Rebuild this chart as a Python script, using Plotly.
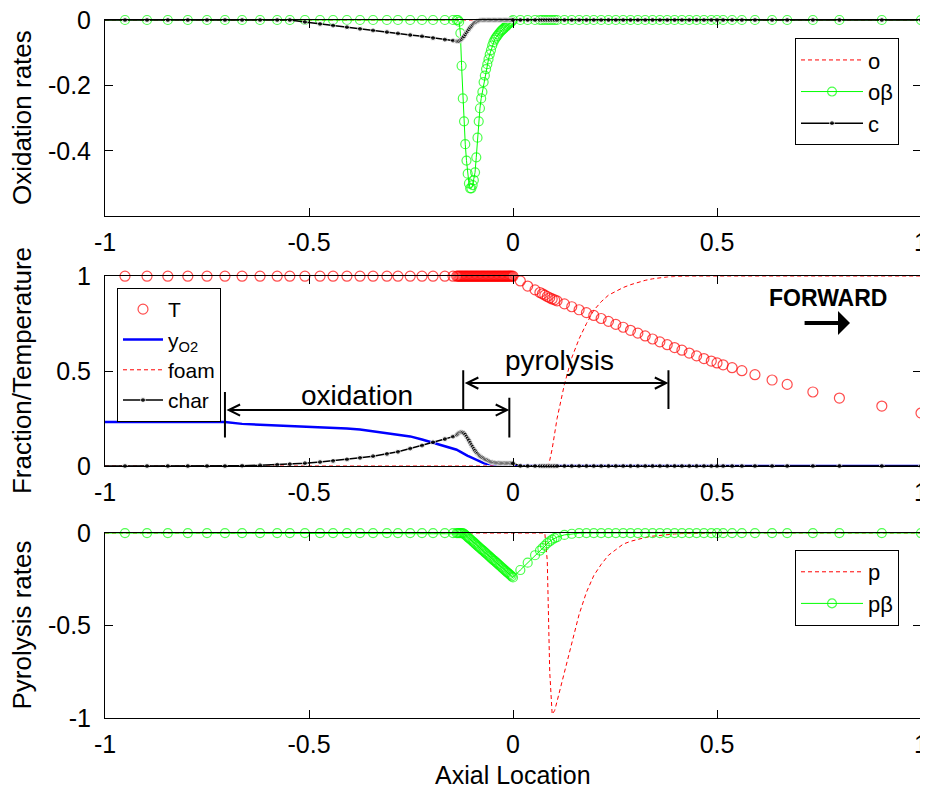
import plotly.graph_objects as go

# ---------------- data ----------------
X = [-1.0, -0.951, -0.897, -0.846, -0.797, -0.750, -0.706, -0.664, -0.620, -0.578, -0.547, -0.510,
     -0.473, -0.441, -0.407, -0.375, -0.343, -0.309, -0.282, -0.252, -0.223, -0.196, -0.167, -0.147,
     -0.138, -0.135, -0.132, -0.129, -0.126, -0.123, -0.120, -0.117, -0.114, -0.111,
     -0.108, -0.105, -0.102, -0.099, -0.096, -0.093, -0.090, -0.087, -0.084, -0.081,
     -0.078, -0.075, -0.072, -0.069, -0.066, -0.063, -0.060, -0.057, -0.054, -0.051,
     -0.048, -0.045, -0.042, -0.039, -0.036, -0.033, -0.030, -0.027, -0.024, -0.021,
     -0.018, -0.015, -0.012, -0.009, -0.006, -0.003, 0.0,
     0.018, 0.036, 0.054, 0.066, 0.072, 0.078, 0.084, 0.090, 0.096, 0.102,
     0.108, 0.126, 0.144, 0.162, 0.180, 0.198, 0.216, 0.234, 0.252, 0.270,
     0.288, 0.306, 0.324, 0.342, 0.360, 0.378, 0.396, 0.414, 0.432, 0.450, 0.468, 0.486,
     0.500, 0.515, 0.537, 0.561, 0.593, 0.635, 0.672, 0.735, 0.800, 0.904, 1.0]

O_RATE = [0, 0, 0, 0, 0, 0, 0, 0, 0, 0, 0, 0, 0, 0, 0, 0, 0, 0, 0, 0, 0, 0, 0, 0,
          0, 0, 0, 0, 0, 0, 0, 0, 0, 0,
          0, 0, 0, 0, 0, 0, 0, 0, 0, 0,
          0, 0, 0, 0, 0, 0, 0, 0, 0, 0,
          0, 0, 0, 0, 0, 0, 0, 0, 0, 0,
          0, 0, 0, 0, 0, 0, 0,
          0, 0, 0, 0, 0, 0, 0, 0, 0, 0, 0, 0, 0, 0, 0, 0, 0, 0, 0, 0, 0, 0, 0, 0, 0, 0, 0, 0, 0, 0, 0, 0,
          0, 0, 0, 0, 0, 0, 0, 0, 0, 0, 0]

OB_RATE = [0, 0, 0, 0, 0, 0, 0, 0, 0, 0, 0, 0, 0, 0, 0, 0, 0, 0, 0, 0, 0, 0, 0, 0,
           0, 0, -0.005, -0.04, -0.14, -0.24, -0.31, -0.38, -0.43, -0.47,
           -0.50, -0.515, -0.515, -0.505, -0.49, -0.466, -0.42, -0.36, -0.31, -0.27,
           -0.24, -0.22, -0.19, -0.17, -0.15, -0.135, -0.12, -0.105, -0.092, -0.078,
           -0.068, -0.06, -0.054, -0.049, -0.044, -0.039, -0.035, -0.031, -0.028, -0.024,
           -0.02, -0.017, -0.013, -0.01, -0.007, -0.004, 0,
           0, 0, 0, 0, 0, 0, 0, 0, 0, 0, 0, 0, 0, 0, 0, 0, 0, 0, 0, 0, 0, 0, 0, 0, 0, 0, 0, 0, 0, 0, 0, 0,
           0, 0, 0, 0, 0, 0, 0, 0, 0, 0, 0]

C_RATE = [0, 0, 0, 0, 0, 0, 0, 0, 0, 0, 0, -0.006,
          -0.012, -0.017, -0.022, -0.027, -0.032, -0.037, -0.041, -0.046, -0.050, -0.055, -0.060, -0.063,
          -0.065, -0.065, -0.064, -0.061, -0.058, -0.054, -0.050, -0.044, -0.038, -0.033,
          -0.028, -0.023, -0.018, -0.014, -0.010, -0.007, -0.005, -0.003, -0.002, -0.001,
          0, 0, 0, 0, 0, 0, 0, 0, 0, 0,
          0, 0, 0, 0, 0, 0, 0, 0, 0, 0,
          0, 0, 0, 0, 0, 0, 0,
          0, 0, 0, 0, 0, 0, 0, 0, 0, 0, 0, 0, 0, 0, 0, 0, 0, 0, 0, 0, 0, 0, 0, 0, 0, 0, 0, 0, 0, 0, 0, 0,
          0, 0, 0, 0, 0, 0, 0, 0, 0, 0, 0]

TEMP = [1, 1, 1, 1, 1, 1, 1, 1, 1, 1, 1, 1, 1, 1, 1, 1, 1, 1, 1, 1, 1, 1, 1, 1,
        1, 1, 1, 1, 1, 1, 1, 1, 1, 1,
        1, 1, 1, 1, 1, 1, 1, 1, 1, 1,
        1, 1, 1, 1, 1, 1, 1, 1, 1, 1,
        1, 1, 1, 1, 1, 1, 1, 1, 1, 1,
        1, 1, 1, 1, 1, 1, 1,
        0.975, 0.948, 0.928, 0.914, 0.907, 0.900, 0.893, 0.886, 0.880, 0.875,
        0.870, 0.854, 0.839, 0.823, 0.808, 0.793, 0.777, 0.762, 0.746, 0.731,
        0.715, 0.700, 0.685, 0.669, 0.654, 0.639, 0.624, 0.610, 0.595, 0.580, 0.566, 0.553,
        0.543, 0.533, 0.518, 0.502, 0.481, 0.453, 0.430, 0.390, 0.358, 0.316, 0.279]

Y_O2 = [0.232, 0.232, 0.232, 0.232, 0.232, 0.232, 0.232, 0.222, 0.218, 0.215, 0.213, 0.211,
        0.208, 0.204, 0.198, 0.192, 0.183, 0.172, 0.165, 0.156, 0.140, 0.124, 0.105, 0.095,
        0.086, 0.082, 0.078, 0.075, 0.071, 0.068, 0.064, 0.061, 0.057, 0.054,
        0.051, 0.048, 0.045, 0.042, 0.038, 0.034, 0.030, 0.027, 0.023, 0.020,
        0.018, 0.016, 0.015, 0.013, 0.012, 0.011, 0.010, 0.009, 0.008, 0.007,
        0.006, 0.0055, 0.005, 0.0045, 0.004, 0.0035, 0.003, 0.0025, 0.002, 0.0015,
        0.001, 0.001, 0, 0, 0, 0, 0,
        0, 0, 0, 0, 0, 0, 0, 0, 0, 0, 0, 0, 0, 0, 0, 0, 0, 0, 0, 0, 0, 0, 0, 0, 0, 0, 0, 0, 0, 0, 0, 0,
        0, 0, 0, 0, 0, 0, 0, 0, 0, 0, 0]

FOAM = [0, 0, 0, 0, 0, 0, 0, 0, 0, 0, 0, 0, 0, 0, 0, 0, 0, 0, 0, 0, 0, 0, 0, 0,
        0, 0, 0, 0, 0, 0, 0, 0, 0, 0,
        0, 0, 0, 0, 0, 0, 0, 0, 0, 0,
        0, 0, 0, 0, 0, 0, 0, 0, 0, 0,
        0, 0, 0, 0, 0, 0, 0, 0, 0, 0,
        0, 0, 0, 0, 0, 0, 0,
        0, 0, 0, 0, 0, 0, 0, 0.03, 0.09, 0.17,
        0.25, 0.43, 0.57, 0.67, 0.75, 0.82, 0.865, 0.90, 0.92, 0.94,
        0.955, 0.968, 0.978, 0.986, 0.992, 0.996, 0.998, 1, 1, 1, 1, 1,
        1, 1, 1, 1, 1, 1, 1, 1, 1, 1, 1]

CHAR = [0, 0, 0, 0, 0, 0, 0, 0.002, 0.004, 0.007, 0.010, 0.015,
        0.021, 0.027, 0.035, 0.043, 0.052, 0.064, 0.075, 0.092, 0.108, 0.125, 0.142, 0.155,
        0.165, 0.170, 0.175, 0.178, 0.178, 0.176, 0.172, 0.165, 0.155, 0.145,
        0.135, 0.122, 0.110, 0.100, 0.090, 0.081, 0.072, 0.065, 0.058, 0.053,
        0.048, 0.044, 0.040, 0.036, 0.033, 0.030, 0.027, 0.024, 0.022, 0.020,
        0.019, 0.018, 0.017, 0.0165, 0.016, 0.0155, 0.015, 0.015, 0.015, 0.015,
        0.015, 0.015, 0.015, 0.015, 0.015, 0.015, 0.014,
        0.001, 0, 0, 0, 0, 0, 0, 0, 0, 0, 0, 0, 0, 0, 0, 0, 0, 0, 0, 0, 0, 0, 0, 0, 0, 0, 0, 0, 0, 0, 0, 0,
        0, 0, 0, 0, 0, 0, 0, 0, 0, 0, 0]

P_RATE = [0, 0, 0, 0, 0, 0, 0, 0, 0, 0, 0, 0, 0, 0, 0, 0, 0, 0, 0, 0, 0, 0, 0, 0,
          0, 0, 0, 0, 0, 0, 0, 0, 0, 0,
          0, 0, 0, 0, 0, 0, 0, 0, 0, 0,
          0, 0, 0, 0, 0, 0, 0, 0, 0, 0,
          0, 0, 0, 0, 0, 0, 0, 0, 0, 0,
          0, 0, 0, 0, 0, 0, 0,
          0, 0, 0, 0, 0, 0, -0.15, -0.75, -0.98, -0.96,
          -0.91, -0.75, -0.59, -0.44, -0.32, -0.23, -0.17, -0.12, -0.09, -0.06,
          -0.045, -0.033, -0.024, -0.017, -0.012, -0.008, -0.005, -0.003, -0.002, -0.001, 0, 0,
          0, 0, 0, 0, 0, 0, 0, 0, 0, 0, 0]

PB_RATE = [0, 0, 0, 0, 0, 0, 0, 0, 0, 0, 0, 0, 0, 0, 0, 0, 0, 0, 0, 0, 0, 0, 0, 0,
           0, 0, 0, 0, 0, 0, -0.004, -0.010, -0.016, -0.022,
           -0.028, -0.033, -0.039, -0.045, -0.051, -0.057, -0.063, -0.069, -0.075, -0.081,
           -0.087, -0.092, -0.098, -0.104, -0.110, -0.116, -0.122, -0.128, -0.134, -0.140,
           -0.146, -0.151, -0.157, -0.163, -0.169, -0.175, -0.181, -0.187, -0.193, -0.199,
           -0.205, -0.211, -0.216, -0.222, -0.228, -0.234, -0.240,
           -0.20, -0.16, -0.12, -0.095, -0.082, -0.068, -0.055, -0.045, -0.036, -0.028,
           -0.022, -0.010, -0.004, -0.001, 0, 0, 0, 0, 0, 0, 0, 0, 0, 0, 0, 0, 0, 0, 0, 0, 0, 0,
           0, 0, 0, 0, 0, 0, 0, 0, 0, 0, 0]

X_TICKS = [-1, -0.5, 0, 0.5, 1]
X_TICKTEXT = ["-1", "-0.5", "0", "0.5", "1"]
Y1_TICKS = [0, -0.2, -0.4]
Y1_TICKTEXT = ["0", "-0.2", "-0.4"]
Y2_TICKS = [0, 0.5, 1]
Y2_TICKTEXT = ["0", "0.5", "1"]
Y3_TICKS = [0, -0.5, -1]
Y3_TICKTEXT = ["0", "-0.5", "-1"]

# annotation positions (middle panel data coords)
OXID_SPAN = [-0.706, -0.009]
PYRO_SPAN = [-0.122, 0.381]

# ---------------- figure ----------------
FONT = "Liberation Sans, Arial, sans-serif"
RED, GREEN, BLUE, BLACK = "#ff0000", "#00ff00", "#0000ff", "#000000"
n = len(X)
circ_sizes = [0] + [9] * (n - 1)
dot_sizes = [0] + [5] * (n - 1)

fig = go.Figure()

# top panel
fig.add_trace(go.Scatter(x=X, y=O_RATE, name="o", mode="lines", xaxis="x", yaxis="y",
                         line=dict(color=RED, width=1, dash="4px,3px"), legend="legend", cliponaxis=False))
fig.add_trace(go.Scatter(x=X, y=OB_RATE, name="oβ", mode="lines+markers", xaxis="x", yaxis="y",
                         line=dict(color=GREEN, width=1),
                         marker=dict(symbol="circle-open", size=circ_sizes, color=GREEN, line=dict(width=1.2, color=GREEN)),
                         legend="legend", cliponaxis=False))
fig.add_trace(go.Scatter(x=X, y=C_RATE, name="c", mode="lines+markers", xaxis="x", yaxis="y",
                         line=dict(color=BLACK, width=1.5),
                         marker=dict(symbol="circle", size=dot_sizes, color=BLACK),
                         legend="legend", cliponaxis=False))

# middle panel
fig.add_trace(go.Scatter(x=X, y=TEMP, name="T", mode="markers", xaxis="x2", yaxis="y2",
                         marker=dict(symbol="circle-open", size=[0] + [10] * (n - 1), color=RED, line=dict(width=1.2, color=RED)),
                         legend="legend2", cliponaxis=False))
fig.add_trace(go.Scatter(x=X, y=Y_O2, name="y<sub>O2</sub>", mode="lines", xaxis="x2", yaxis="y2",
                         line=dict(color=BLUE, width=2.5), legend="legend2", cliponaxis=False))
fig.add_trace(go.Scatter(x=X, y=FOAM, name="foam", mode="lines", xaxis="x2", yaxis="y2",
                         line=dict(color=RED, width=1, dash="4px,3px"), legend="legend2", cliponaxis=False))
fig.add_trace(go.Scatter(x=X, y=CHAR, name="char", mode="lines+markers", xaxis="x2", yaxis="y2",
                         line=dict(color=BLACK, width=1.5),
                         marker=dict(symbol="circle", size=dot_sizes, color=BLACK),
                         legend="legend2", cliponaxis=False))

# bottom panel
fig.add_trace(go.Scatter(x=X, y=P_RATE, name="p", mode="lines", xaxis="x3", yaxis="y3",
                         line=dict(color=RED, width=1, dash="4px,3px"), legend="legend3", cliponaxis=False))
fig.add_trace(go.Scatter(x=X, y=PB_RATE, name="pβ", mode="lines+markers", xaxis="x3", yaxis="y3",
                         line=dict(color=GREEN, width=1),
                         marker=dict(symbol="circle-open", size=circ_sizes, color=GREEN, line=dict(width=1.2, color=GREEN)),
                         legend="legend3", cliponaxis=False))

AX = dict(showline=True, linecolor=BLACK, linewidth=1, mirror="ticks", ticks="inside", ticklen=8,
          tickcolor=BLACK, showgrid=False, zeroline=False, automargin=False, ticklabeloverflow="allow",
          tickfont=dict(family=FONT, size=25, color=BLACK))

D_TOP = [0.719, 1.0]
D_MID = [0.361, 0.633]
D_BOT = [0.0, 0.265]

LEG = dict(bordercolor=BLACK, borderwidth=1, bgcolor="white", xanchor="left", yanchor="top",
           font=dict(family=FONT, size=22, color=BLACK), tracegroupgap=0, itemwidth=62)
LEG_MID = dict(LEG, font=dict(family=FONT, size=21, color=BLACK), itemwidth=40)

# the page body has an 8px margin, so the figure is 8px smaller and margins are reduced by 8px
fig.update_layout(
    width=920, height=790, margin=dict(l=97, r=7, t=12, b=80, autoexpand=False),
    paper_bgcolor="white", plot_bgcolor="white",
    font=dict(family=FONT, color=BLACK),
    xaxis=dict(AX, domain=[0, 1], anchor="y", range=[-1, 1], tickvals=X_TICKS, ticktext=X_TICKTEXT, ticklabelstandoff=4),
    yaxis=dict(AX, domain=D_TOP, anchor="x", range=[-0.6, 0], tickvals=Y1_TICKS, ticktext=Y1_TICKTEXT, ticklabelstandoff=8),
    xaxis2=dict(AX, domain=[0, 1], anchor="y2", range=[-1, 1], tickvals=X_TICKS, ticktext=X_TICKTEXT, ticklabelstandoff=4),
    yaxis2=dict(AX, domain=D_MID, anchor="x2", range=[0, 1], tickvals=Y2_TICKS, ticktext=Y2_TICKTEXT, ticklabelstandoff=8),
    xaxis3=dict(AX, domain=[0, 1], anchor="y3", range=[-1, 1], tickvals=X_TICKS, ticktext=X_TICKTEXT, ticklabelstandoff=4),
    yaxis3=dict(AX, domain=D_BOT, anchor="x3", range=[-1, 0], tickvals=Y3_TICKS, ticktext=Y3_TICKTEXT, ticklabelstandoff=8),
    legend=dict(LEG, x=0.8456, y=0.974),
    legend2=dict(LEG_MID, x=0.0147, y=0.616),
    legend3=dict(LEG, x=0.8456, y=0.2407),
    showlegend=True,
)

TITLE_FONT = dict(family=FONT, size=26, color=BLACK)
ann = [
    dict(text="Oxidation rates", xref="paper", yref="paper", x=-0.1017, y=sum(D_TOP) / 2, textangle=-90,
         showarrow=False, font=TITLE_FONT, xanchor="center", yanchor="middle"),
    dict(text="Fraction/Temperature", xref="paper", yref="paper", x=-0.1017, y=sum(D_MID) / 2, textangle=-90,
         showarrow=False, font=TITLE_FONT, xanchor="center", yanchor="middle"),
    dict(text="Pyrolysis rates", xref="paper", yref="paper", x=-0.1017, y=sum(D_BOT) / 2, textangle=-90,
         showarrow=False, font=TITLE_FONT, xanchor="center", yanchor="middle"),
    dict(text="Axial Location", xref="paper", yref="paper", x=0.5, y=-0.0817, showarrow=False,
         font=dict(family=FONT, size=25, color=BLACK), xanchor="center", yanchor="middle"),
    dict(text="oxidation", xref="x2", yref="y2", x=-0.382, y=0.374, showarrow=False,
         font=dict(family=FONT, size=28, color=BLACK), xanchor="center", yanchor="middle"),
    dict(text="pyrolysis", xref="x2", yref="y2", x=0.115, y=0.558, showarrow=False,
         font=dict(family=FONT, size=28, color=BLACK), xanchor="center", yanchor="middle"),
    dict(text="FORWARD", xref="x2", yref="y2", x=0.772, y=0.884, showarrow=False,
         font=dict(family=FONT, size=23, color=BLACK, weight="bold"), xanchor="center", yanchor="middle"),
    # double arrows
    dict(text="", xref="x2", yref="y2", x=OXID_SPAN[1], y=0.295, axref="x2", ayref="y2",
         ax=OXID_SPAN[0], ay=0.295, showarrow=True, arrowside="end+start", arrowhead=5, startarrowhead=5,
         arrowwidth=2, arrowsize=1.1, startarrowsize=1.1, arrowcolor=BLACK),
    dict(text="", xref="x2", yref="y2", x=PYRO_SPAN[1], y=0.437, axref="x2", ayref="y2",
         ax=PYRO_SPAN[0], ay=0.437, showarrow=True, arrowside="end+start", arrowhead=5, startarrowhead=5,
         arrowwidth=2, arrowsize=1.1, startarrowsize=1.1, arrowcolor=BLACK),
    # forward arrow
    dict(text="", xref="x2", yref="y2", x=0.826, y=0.753, axref="x2", ayref="y2",
         ax=0.711, ay=0.753, showarrow=True, arrowhead=1, arrowwidth=4, arrowsize=1, arrowcolor=BLACK),
]
fig.update_layout(annotations=ann)

shapes = [
    dict(type="line", xref="x2", yref="y2", x0=OXID_SPAN[0], x1=OXID_SPAN[0], y0=0.15, y1=0.39,
         line=dict(color=BLACK, width=2)),
    dict(type="line", xref="x2", yref="y2", x0=OXID_SPAN[1], x1=OXID_SPAN[1], y0=0.15, y1=0.36,
         line=dict(color=BLACK, width=2)),
    dict(type="line", xref="x2", yref="y2", x0=PYRO_SPAN[0], x1=PYRO_SPAN[0], y0=0.30, y1=0.505,
         line=dict(color=BLACK, width=2)),
    dict(type="line", xref="x2", yref="y2", x0=PYRO_SPAN[1], x1=PYRO_SPAN[1], y0=0.30, y1=0.505,
         line=dict(color=BLACK, width=2)),
]
fig.update_layout(shapes=shapes)

fig.write_html("out.html")
